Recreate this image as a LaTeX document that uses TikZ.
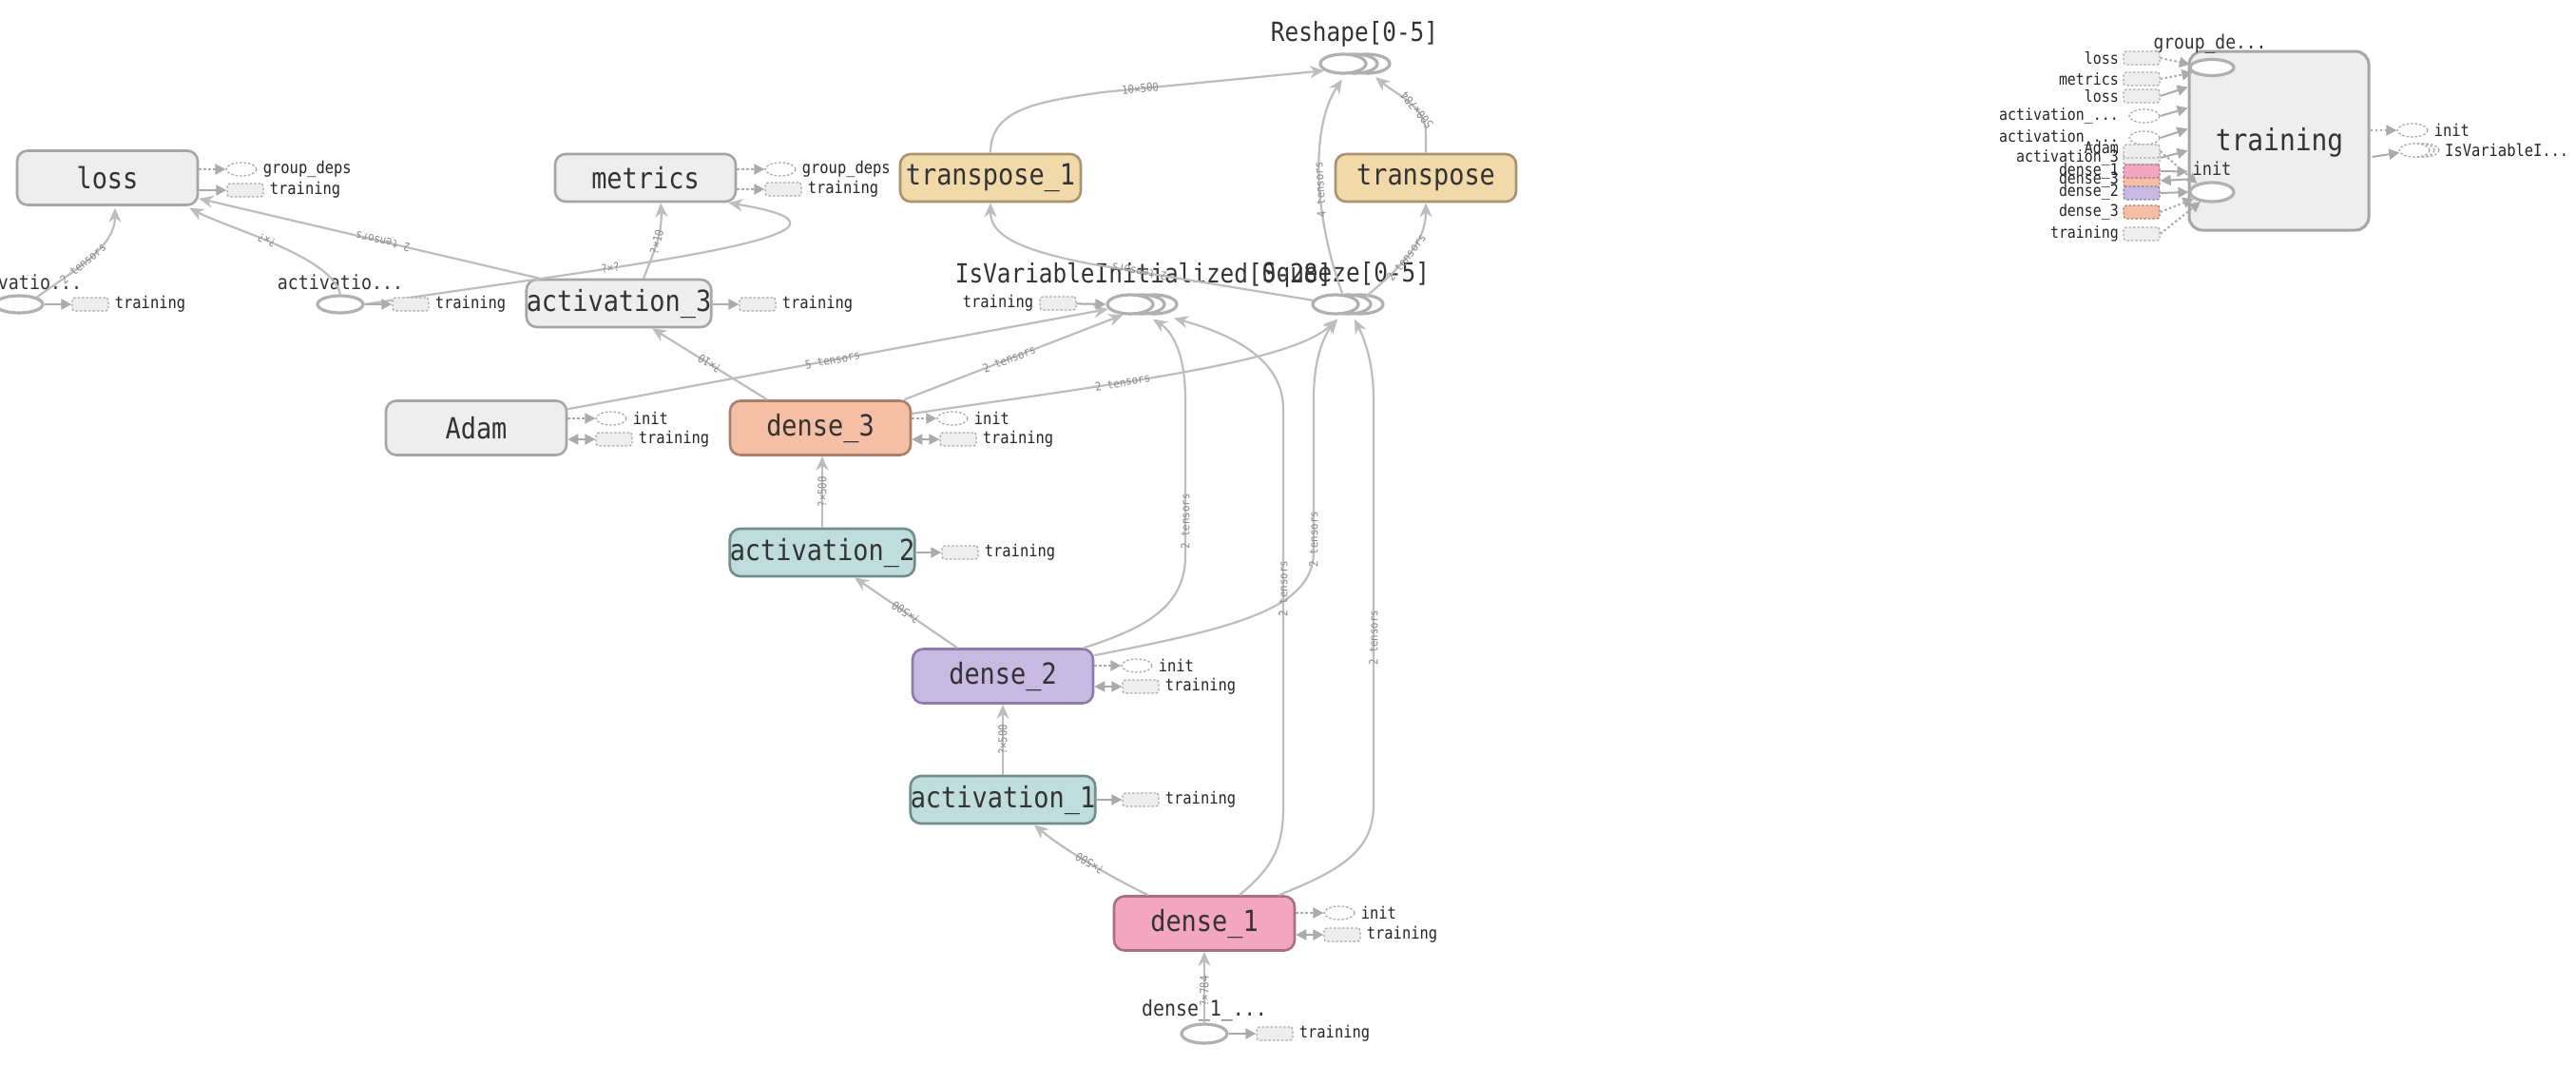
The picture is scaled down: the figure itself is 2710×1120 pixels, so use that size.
\documentclass[tikz,border=0pt]{standalone}
\usepackage{fontspec}
\newfontfamily\mf[FakeStretch=0.88]{DejaVu Sans Mono}
\usetikzlibrary{arrows.meta,shapes.geometric,calc}
\definecolor{gfill}{HTML}{EEEEEE}
\definecolor{gdraw}{HTML}{A6A6A6}
\definecolor{tfill}{HTML}{F1D9A9}
\definecolor{tdraw}{HTML}{AA9470}
\definecolor{sfill}{HTML}{F5BFA6}
\definecolor{sdraw}{HTML}{A97E6C}
\definecolor{cfill}{HTML}{C0DDDD}
\definecolor{cdraw}{HTML}{728D8C}
\definecolor{lfill}{HTML}{C7B9E2}
\definecolor{ldraw}{HTML}{8C7CAA}
\definecolor{pfill}{HTML}{F3A6BF}
\definecolor{pdraw}{HTML}{A9707F}
\definecolor{edgec}{HTML}{BDBDBD}
\definecolor{ellc}{HTML}{B0B0B0}
\definecolor{stubc}{HTML}{ABABAB}
\definecolor{txt}{HTML}{333333}
\definecolor{lbl}{HTML}{8A8A8A}
\begin{document}
\begin{tikzpicture}[x=1bp,y=-1bp,
  opbox/.style={rectangle, rounded corners=11bp, line width=2.6bp, minimum width=190bp, minimum height=57bp, inner sep=0pt, text=txt, font=\mf\fontsize{30.7}{32}\selectfont},
  shortbox/.style={minimum height=50bp},
  greyc/.style={fill=gfill, draw=gdraw},
  tanc/.style={fill=tfill, draw=tdraw},
  salc/.style={fill=sfill, draw=sdraw},
  teac/.style={fill=cfill, draw=cdraw},
  lavc/.style={fill=lfill, draw=ldraw},
  pinkc/.style={fill=pfill, draw=pdraw},
  opell/.style={ellipse, draw=ellc, line width=3.2bp, fill=white, minimum width=48bp, minimum height=20bp, inner sep=0pt},
  elltxt/.style={text=txt, inner sep=0pt, font=\mf\fontsize{27.8}{29}\selectfont},
  stubbox/.style={rectangle, rounded corners=3bp, draw=stubc, dash pattern=on 2.5bp off 2bp, line width=1.3bp, fill=gfill, minimum width=38bp, minimum height=14bp, inner sep=0pt},
  stubell/.style={ellipse, draw=stubc, dash pattern=on 2.5bp off 2bp, line width=1.3bp, fill=white, minimum width=32bp, minimum height=14bp, inner sep=0pt},
  stubtxt/.style={anchor=west, text=black!85, inner sep=0pt, font=\mf\fontsize{17.6}{18}\selectfont},
  rowtxt/.style={anchor=east, text=black!85, inner sep=0pt, font=\mf\fontsize{17}{18}\selectfont},
  conn/.style={draw=edgec, line width=2.2bp, -{Stealth[length=15bp,width=13bp]}},
  elab/.style={text=lbl, sloped, allow upside down, inner sep=1bp, font=\mf\fontsize{12.3}{13}\selectfont},
  sarr/.style={draw=stubc, line width=2bp, -{Triangle[length=11bp,width=11bp]}},
  darr/.style={sarr, dash pattern=on 2.5bp off 2.5bp},
  barr/.style={draw=stubc, line width=2bp, {Triangle[length=11bp,width=11bp]}-{Triangle[length=11bp,width=11bp]}},
]
\useasboundingbox (0,0) rectangle (2710,1120);
\fill[white] (0,0) rectangle (2710,1120);

% ---------- main op nodes ----------
\node[opbox,greyc] (loss) at (113,187) {loss};
\node[opbox,greyc,shortbox] (metrics) at (679,187) {metrics};
\node[opbox,tanc,shortbox] (T1) at (1042,187) {transpose\_1};
\node[opbox,tanc,shortbox] (T) at (1500,187) {transpose};
\node[opbox,greyc,shortbox] (a3) at (651,319) {activation\_3};
\node[opbox,greyc] (adam) at (501,450) {Adam};
\node[opbox,salc] (dense3) at (863,450) {dense\_3};
\node[opbox,teac,shortbox] (a2) at (865,581) {activation\_2};
\node[opbox,lavc] (dense2) at (1055,711) {dense\_2};
\node[opbox,teac,shortbox] (a1) at (1055,841) {activation\_1};
\node[opbox,pinkc] (dense1) at (1267,971) {dense\_1};

% ---------- ellipse ops ----------
\node[opell, minimum width=50bp, minimum height=18bp] (e1) at (20,320) {};
\node[elltxt, font=\mf\fontsize{20.9}{22}\selectfont] (e1t) at (20,297) {activatio...};
\node[opell, minimum width=48bp, minimum height=18bp] (e2) at (358,320) {};
\node[elltxt, font=\mf\fontsize{20.9}{22}\selectfont] (e2t) at (358,297) {activatio...};
\node[opell] (d1in) at (1267,1087) {};
\node[elltxt, font=\mf\fontsize{22.7}{24}\selectfont] (d1int) at (1267,1063) {dense\_1\_...};

\node[opell] (isv3) at (1214,320) {};
\node[opell] (isv2) at (1201,320) {};
\node[opell] (isv) at (1189,320) {};
\node[elltxt] (isvt) at (1203,289) {IsVariableInitialized[0-28]};

\node[opell] (sq3) at (1431,320) {};
\node[opell] (sq2) at (1418,320) {};
\node[opell] (sq) at (1405,320) {};
\node[elltxt] (sqt) at (1416,289) {Squeeze[0-5]};

\node[opell] (rs3) at (1438,67) {};
\node[opell] (rs2) at (1425,67) {};
\node[opell] (rs) at (1413,67) {};
\node[elltxt] (rst) at (1425,36) {Reshape[0-5]};

% ---------- main connectors ----------
\draw[conn] (e1.north east) .. controls (72,288) and (121,262) .. ($(loss.south)+(8,2)$) node[elab,pos=.45]{2 tensors};
\draw[conn] (e2.north) .. controls (350,270) and (240,240) .. ($(loss.south east)+(-10,2)$) node[elab,pos=.55]{?×?};
\draw[conn] ($(a3.north west)+(15,0)$) -- ($(loss.south east)+(0,-8)$) node[elab,pos=.46]{2 tensors};
\draw[conn] (e2.east) .. controls (650,280) and (960,245) .. ($(metrics.south east)+(-9,0)$) node[elab,pos=.33]{?×?};
\draw[conn] ($(a3.north)+(26,0)$) .. controls (688,265) and (697,245) .. ($(metrics.south)+(16,0)$) node[elab,pos=.5]{?×10};
\draw[conn] ($(dense3.north)+(-56,0)$) -- ($(a3.south)+(35,0)$) node[elab,pos=.5]{?×10};
\draw[conn] ($(adam.north east)+(0,10)$) -- (isv.192) node[elab,pos=.49]{5 tensors};
\draw[conn] ($(dense3.north east)+(-8,0)$) -- (isv.235) node[elab,pos=.48]{2 tensors};
\draw[conn] ($(dense3.east)+(0,-15)$) .. controls (1200,400) and (1360,380) .. ($(sq.south)+(2,4)$) node[elab,pos=.35]{2 tensors};
\draw[conn] (a2.north) -- (a2.north |- dense3.south) node[elab,pos=.5]{?×500};
\draw[conn] ($(dense2.north)+(-48,0)$) -- ($(a2.south)+(34,0)$) node[elab,pos=.5]{?×500};
\draw[conn] ($(dense2.north east)+(-11,0)$) .. controls (1200,662) and (1247,640) .. (1247,585) -- node[elab,pos=.22]{2 tensors} (1247,420) .. controls (1247,375) and (1235,350) .. ($(isv.south)+(24,4)$);
\draw[conn] ($(dense2.north east)+(0,8)$) .. controls (1300,660) and (1382,640) .. (1382,580) -- node[elab,pos=.08]{2 tensors} (1382,420) .. controls (1382,372) and (1395,350) .. ($(sq.south)+(2,4)$);
\draw[conn] (a1.north) -- (a1.north |- dense2.south) node[elab,pos=.5]{?×500};
\draw[conn] ($(dense1.north west)+(37,0)$) .. controls (1160,918) and (1115,890) .. ($(a1.south)+(33,0)$) node[elab,pos=.45]{?×500};
\draw[conn] ($(dense1.north)+(37,0)$) .. controls (1335,915) and (1350,895) .. (1350,850) -- node[elab,pos=.55]{2 tensors} (1350,430) .. controls (1350,375) and (1290,350) .. ($(isv.south)+(46,3)$);
\draw[conn] ($(dense1.north east)+(-18,0)$) .. controls (1420,912) and (1445,890) .. (1445,845) -- node[elab,pos=.41]{2 tensors} (1445,420) .. controls (1445,375) and (1432,350) .. ($(sq.south)+(20,4)$);
\draw[conn] (d1in.north) -- (dense1.south) node[elab,pos=.44]{?×784};
\draw[conn] (sq.170) -- node[elab,pos=.79]{2 tensors} (1150,278) .. controls (1065,262) and (1042,245) .. (T1.south);
\draw[conn] ($(sq.north)+(7,0)$) .. controls (1380,220) and (1380,130) .. ($(rs.south)+(-1,5)$) node[elab,pos=.42]{4 tensors};
\draw[conn] ($(sq.north east)+(14,0)$) .. controls (1475,280) and (1500,255) .. (T.south) node[elab,pos=.45]{2 tensors};
\draw[conn] (T1.north) .. controls (1042,115) and (1090,107) .. (1160,97) -- node[elab,pos=.17]{10×500} (rs.200);
\draw[conn] (T.north) -- (1500,140) .. controls (1500,112) and (1470,100) .. ($(rs.south east)+(16,6)$) node[elab,pos=.35]{500×784};

% ---------- side stubs ----------
\node[stubell] (lossgd) at (254,178) {};
\node[stubtxt] (lossgdt) at ($(lossgd.east)+(6,0)$) {group\_deps};
\node[stubbox] (losstr) at (258,200) {};
\node[stubtxt] (losstrt) at ($(losstr.east)+(6,0)$) {training};
\draw[darr] (loss.east |- lossgd) -- (lossgd);
\draw[sarr] (loss.east |- losstr) -- (losstr);

\node[stubell] (metgd) at (821,178) {};
\node[stubtxt] (metgdt) at ($(metgd.east)+(6,0)$) {group\_deps};
\node[stubbox] (mettr) at (824,199) {};
\node[stubtxt] (mettrt) at ($(mettr.east)+(6,0)$) {training};
\draw[darr] (metrics.east |- metgd) -- (metgd);
\draw[darr] (metrics.east |- mettr) -- (mettr);

\node[stubbox] (a3tr) at (797,320) {};
\node[stubtxt] (a3trt) at ($(a3tr.east)+(6,0)$) {training};
\draw[sarr] (a3.east |- a3tr) -- (a3tr);

\node[stubell] (adamin) at (643,440) {};
\node[stubtxt] (adamint) at ($(adamin.east)+(6,0)$) {init};
\node[stubbox] (adamtr) at (646,462) {};
\node[stubtxt] (adamtrt) at ($(adamtr.east)+(6,0)$) {training};
\draw[darr] (adam.east |- adamin) -- (adamin);
\draw[barr] (adam.east |- adamtr) -- (adamtr);

\node[stubell] (d3in) at (1002,440) {};
\node[stubtxt] (d3int) at ($(d3in.east)+(6,0)$) {init};
\node[stubbox] (d3tr) at (1008,462) {};
\node[stubtxt] (d3trt) at ($(d3tr.east)+(6,0)$) {training};
\draw[darr] (dense3.east |- d3in) -- (d3in);
\draw[barr] (dense3.east |- d3tr) -- (d3tr);

\node[stubbox] (a2tr) at (1010,581) {};
\node[stubtxt] (a2trt) at ($(a2tr.east)+(6,0)$) {training};
\draw[sarr] (a2.east |- a2tr) -- (a2tr);

\node[stubell] (d2in) at (1196,700) {};
\node[stubtxt] (d2int) at ($(d2in.east)+(6,0)$) {init};
\node[stubbox] (d2tr) at (1200,722) {};
\node[stubtxt] (d2trt) at ($(d2tr.east)+(6,0)$) {training};
\draw[darr] (dense2.east |- d2in) -- (d2in);
\draw[barr] (dense2.east |- d2tr) -- (d2tr);

\node[stubbox] (a1tr) at (1200,841) {};
\node[stubtxt] (a1trt) at ($(a1tr.east)+(6,0)$) {training};
\draw[sarr] (a1.east |- a1tr) -- (a1tr);

\node[stubell] (d1i) at (1409,960) {};
\node[stubtxt] (d1it) at ($(d1i.east)+(6,0)$) {init};
\node[stubbox] (d1tr) at (1412,983) {};
\node[stubtxt] (d1trt) at ($(d1tr.east)+(6,0)$) {training};
\draw[darr] (dense1.east |- d1i) -- (d1i);
\draw[barr] (dense1.east |- d1tr) -- (d1tr);

\node[stubbox] (d1intr) at (1341,1087) {};
\node[stubtxt] (d1intrt) at ($(d1intr.east)+(6,0)$) {training};
\draw[sarr] (d1in.east) -- (d1intr);

\node[stubbox] (e1tr) at (95,320) {};
\node[stubtxt] (e1trt) at ($(e1tr.east)+(6,0)$) {training};
\draw[sarr] (e1.east) -- (e1tr);
\node[stubbox] (e2tr) at (432,320) {};
\node[stubtxt] (e2trt) at ($(e2tr.east)+(6,0)$) {training};
\draw[sarr] (e2.east) -- (e2tr);

\node[stubbox] (isvtr) at (1113,319) {};
\node[stubtxt, anchor=east] (isvtrt) at ($(isvtr.west)+(-6,0)$) {training};
\draw[sarr] (isvtr) -- (isv.west);

% ---------- training group ----------
\node[rectangle, rounded corners=14bp, draw=gdraw, line width=3bp, fill=gfill, minimum width=189bp, minimum height=188bp] (grp) at (2397.5,148) {};
\node[text=txt, inner sep=0pt, font=\mf\fontsize{31.8}{33}\selectfont] (grpt) at (2398,150) {training};
\node[opell, minimum width=46bp, minimum height=17bp] (gde) at (2327,71) {};
\node[elltxt, font=\mf\fontsize{20.5}{22}\selectfont] (gdet) at (2325,46) {group\_de...};
\node[opell, minimum width=46bp, minimum height=20bp] (ginit) at (2327,202) {};
\node[elltxt, font=\mf\fontsize{19.3}{20}\selectfont] (ginitt) at (2327,177) {init};

\node[stubell] (gout1) at (2538,137) {};
\node[stubtxt] (gout1t) at ($(gout1.east)+(6,0)$) {init};
\node[stubell] (gout2c) at (2550,158) {};
\node[stubell] (gout2b) at (2545,158) {};
\node[stubell] (gout2) at (2540,158) {};
\node[stubtxt] (gout2t) at (2572,158) {IsVariableI...};
\draw[darr] (grp.east |- gout1) -- (gout1);
\draw[sarr] ($(grp.east)+(2,17)$) -- (gout2);

% input rows
\node[stubbox] (rw1) at (2253,61) {};
\node[rowtxt] (rt1) at (2229,61) {loss};
\node[stubbox] (rw2) at (2253,83) {};
\node[rowtxt] (rt2) at (2229,83) {metrics};
\node[stubbox] (rw3) at (2253,101) {};
\node[rowtxt] (rt3) at (2229,101) {loss};
\node[stubell] (rw4) at (2256,122) {};
\node[rowtxt] (rt4) at (2229,122) {activation\_...};
\node[stubell] (rw5) at (2256,145) {};
\node[rowtxt] (rt5) at (2229,145) {activation\_...};
\node[stubbox] (rw7) at (2253,166) {};
\node[stubbox] (rw6) at (2253,159) {};
\node[rowtxt] (rt6) at (2229,155) {Adam};
\node[rowtxt] (rt7) at (2229,166) {activation\_3};
\node[stubbox, fill=sfill, draw=sdraw] (rw9) at (2253,190) {};
\node[stubbox, fill=pfill, draw=pdraw] (rw8) at (2253,180) {};
\node[rowtxt] (rt9) at (2229,189) {dense\_3};
\node[rowtxt] (rt8) at (2229,180) {dense\_1};
\node[stubbox, fill=lfill, draw=ldraw] (rw10) at (2253,203) {};
\node[rowtxt] (rt10) at (2229,202) {dense\_2};
\node[stubbox, fill=sfill, draw=sdraw] (rw11) at (2253,223) {};
\node[rowtxt] (rt11) at (2229,223) {dense\_3};
\node[stubbox] (rw12) at (2253,246) {};
\node[rowtxt] (rt12) at (2229,246) {training};

\draw[darr] (rw1.east) -- (gde.172);
\draw[darr] (rw2.east) -- (gde.195);
\draw[sarr] (rw3.east) -- ($(grp.north west)+(0,39)$);
\draw[sarr] (rw4.east) -- ($(grp.north west)+(0,61)$);
\draw[sarr] (rw5.east) -- ($(grp.north west)+(0,83)$);
\draw[sarr] (rw7.east) -- ($(grp.north west)+(0,106)$);
\draw[darr] (rw6.east) -- (ginit.150);
\draw[sarr] (rw8.east) -- ($(grp.north west)+(0,128)$);
\draw[sarr] ($(grp.north west)+(0,136)$) -- (rw9.east);
\draw[sarr] (rw10.east) -- (ginit.west);
\draw[darr] (rw11.east) -- (ginit.200);
\draw[darr] (rw12.east) -- (ginit.220);
\end{tikzpicture}
\end{document}
